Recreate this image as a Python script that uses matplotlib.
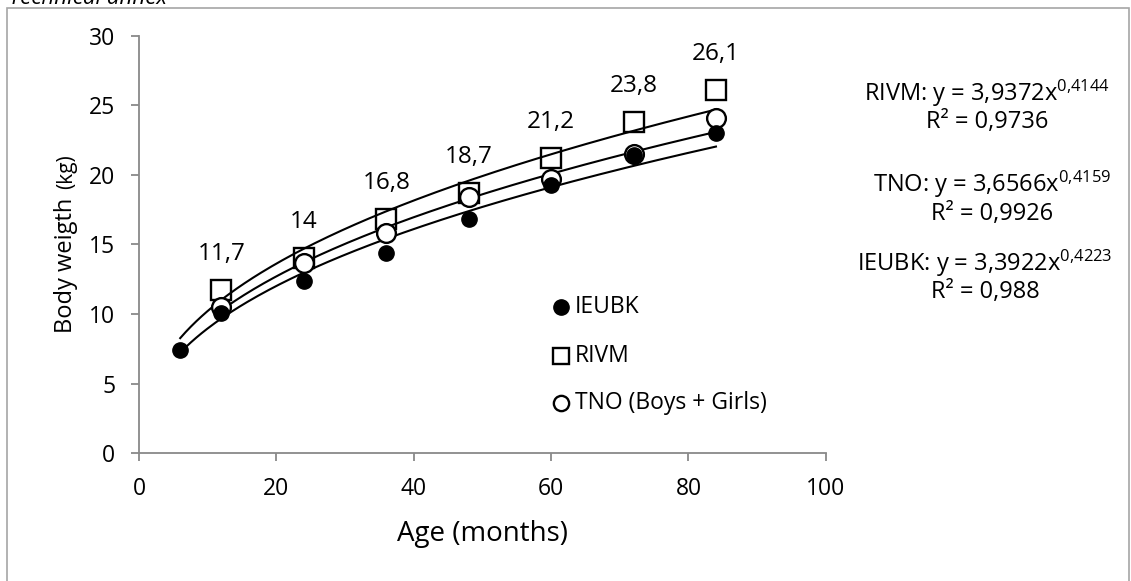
import numpy as np
import matplotlib.pyplot as plt
from matplotlib.patches import Rectangle

plt.rcParams['font.family'] = ['Open Sans', 'DejaVu Sans']
plt.rcParams['mathtext.fontset'] = 'custom'
plt.rcParams['mathtext.rm'] = 'Open Sans'
plt.rcParams['mathtext.it'] = 'Open Sans'

# data
age_ieubk = [6, 12, 24, 36, 48, 60, 72, 84]
ieubk = [7.4, 10.1, 12.4, 14.4, 16.8, 19.3, 21.4, 23.0]
age = [12, 24, 36, 48, 60, 72, 84]
rivm = [11.7, 14.0, 16.8, 18.7, 21.2, 23.8, 26.1]
tno = [10.5, 13.7, 15.8, 18.4, 19.7, 21.5, 24.1]
rivm_labels = ['11,7', '14', '16,8', '18,7', '21,2', '23,8', '26,1']

# power trendlines y = a*x^b as printed on the chart
fit_rivm = (3.9372, 0.4144, 0.9736)
fit_tno = (3.6566, 0.4159, 0.9926)
fit_ieubk = (3.3922, 0.4223, 0.988)

fig = plt.figure(figsize=(11.31, 5.81), dpi=100)
ax = fig.add_axes([0.1229, 0.2198, 0.6073, 0.7188])

grey = '#898989'

x1 = np.linspace(6, 84, 200)
x2 = np.linspace(12, 84, 200)
ax.plot(x1, fit_rivm[0] * x1 ** fit_rivm[1], color='black', lw=1.5, zorder=2)
ax.plot(x2, fit_tno[0] * x2 ** fit_tno[1], color='black', lw=1.5, zorder=2)
ax.plot(x1, fit_ieubk[0] * x1 ** fit_ieubk[1], color='black', lw=1.5, zorder=2)

ax.plot(age, rivm, 's', ms=14, mfc='none', mec='black', mew=1.7, zorder=3)
ax.plot(age, tno, 'o', ms=13.5, mfc='white', mec='black', mew=1.7, zorder=4)
ax.plot(age_ieubk, ieubk, 'o', ms=11, mfc='black', mec='black', zorder=5)

for xv, yv, lab in zip(age, rivm, rivm_labels):
    ax.annotate(lab, (xv, yv), xytext=(0, 26), textcoords='offset points',
                ha='center', va='center', fontsize=17.5)

# legend drawn by hand
leg_x = 61.5
leg_y = [10.5, 7.0, 3.6]
leg_names = ['IEUBK', 'RIVM', 'TNO (Boys + Girls)']
ax.plot(leg_x, leg_y[0], 'o', ms=11, mfc='black', mec='black', clip_on=False)
ax.plot(leg_x, leg_y[1], 's', ms=11.5, mfc='none', mec='black', mew=1.7, clip_on=False)
ax.plot(leg_x, leg_y[2], 'o', ms=11, mfc='white', mec='black', mew=1.7, clip_on=False)
for yv, name in zip(leg_y, leg_names):
    ax.text(leg_x + 2.0, yv, name, fontsize=16.5, va='center', ha='left')

ax.set_xlim(0, 100)
ax.set_ylim(0, 30)
ax.set_xticks(range(0, 101, 20))
ax.set_yticks(range(0, 31, 5))
for s in ['top', 'right']:
    ax.spines[s].set_visible(False)
for s in ['left', 'bottom']:
    ax.spines[s].set_color(grey)
    ax.spines[s].set_linewidth(1.3)
ax.tick_params(direction='out', length=6, width=1.3, color=grey,
               labelsize=16.5, pad=11)

ax.set_xlabel('Age (months)', fontsize=20, labelpad=14)

# y label in two sizes, sharing one baseline
fig.text(0.0637, 0.4269, 'Body weigth', rotation=90, fontsize=17,
         rotation_mode='anchor', ha='left', va='baseline')
fig.text(0.0637, 0.674, '(kg)', rotation=90, fontsize=15,
         rotation_mode='anchor', ha='left', va='baseline')

eqs = [('RIVM', fit_rivm, 0.8727, 0.8176),
       ('TNO', fit_tno, 0.877, 0.66),
       ('IEUBK', fit_ieubk, 0.871, 0.525)]
for name, (a, b, r2), xf, yf in eqs:
    a_s = f'{a}'.replace('.', ',')
    b_s = f'{b}'.replace('.', '{,}')
    r_s = f'{r2}'.replace('.', ',')
    fig.text(xf, yf, f'{name}: y = {a_s}x$^{{{b_s}}}$\nR² = {r_s}',
             ha='center', va='center', fontsize=17, linespacing=1.1)

fig.patches.append(Rectangle((7 / 1131, -0.1), 1122 / 1131, 1.1 - 8 / 581,
                             transform=fig.transFigure, fill=False,
                             edgecolor='#a6a6a6', lw=1.2))
fig.text(0.008, 1 - 4 / 581, 'Technical annex', fontsize=16, style='italic',
         va='baseline', ha='left')

fig.savefig('out.png', dpi=100)
